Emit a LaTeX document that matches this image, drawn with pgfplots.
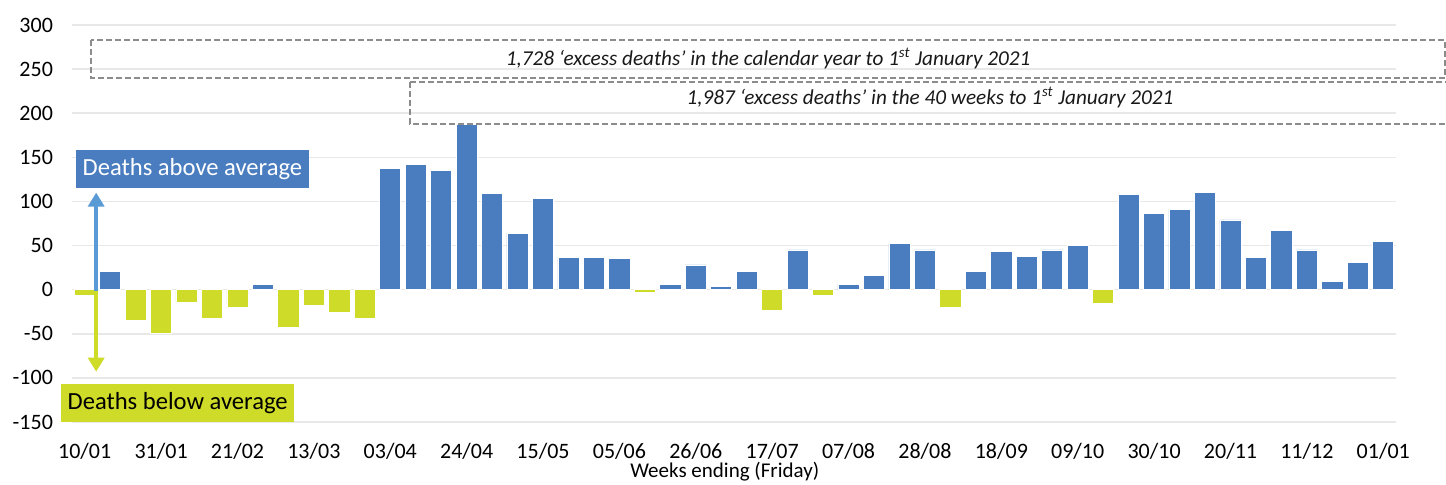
\documentclass[border=0pt]{standalone}
\usepackage{fontspec}
\setmainfont{Carlito}
\usepackage{pgfplots}
\pgfplotsset{compat=1.18}
\usetikzlibrary{arrows.meta}
\definecolor{barblue}{HTML}{4A7DBF}
\definecolor{bargreen}{HTML}{CEDB29}
\definecolor{arrblue}{HTML}{5B9BD5}
\definecolor{gridgray}{HTML}{E8E8E8}
\definecolor{boxgray}{HTML}{8C8C8C}
\begin{document}
\begin{tikzpicture}
\useasboundingbox (-36pt,-31pt) rectangle (687pt,211pt);
\begin{axis}[at={(0,0)}, anchor=south west, scale only axis,
  width=662pt, height=198.5pt,
  xmin=-0.5, xmax=51.5, ymin=-150, ymax=300,
  ytick={-150,-100,...,300},
  axis line style={draw=none}, major tick length=0pt,
  ymajorgrids, grid style={gridgray, line width=0.8pt},
  xtick={0,3,...,51},
  xticklabels={10/01,31/01,21/02,13/03,03/04,24/04,15/05,05/06,26/06,17/07,07/08,28/08,18/09,09/10,30/10,20/11,11/12,01/01},
  tick label style={font=\fontsize{11}{13}\selectfont},
  yticklabel style={anchor=east, xshift=-6pt},
  xticklabel style={anchor=north, yshift=-7pt},
  /pgf/number format/assume math mode=true,
  xlabel={Weeks ending (Friday)},
  xlabel style={font=\fontsize{10.5}{12}\selectfont, at={(axis description cs:0.493,0)}, anchor=north, yshift=-20pt, inner sep=0pt},
  ybar, bar width=10.6pt, bar shift=0pt,
  clip=false,
]
\addplot[fill=barblue, draw=white, line width=0.4pt] coordinates {
(1,21) (7,6) (12,137) (13,142) (14,135) (15,187) (16,109) (17,64) (18,103)
(19,37) (20,37) (21,35) (23,6) (24,28) (25,4) (26,21) (28,45) (30,6) (31,16)
(32,52) (33,45) (35,21) (36,43) (37,38) (38,45) (39,50) (41,108) (42,86)
(43,91) (44,110) (45,79) (46,37) (47,67) (48,45) (49,9) (50,31) (51,55)
};
\addplot[fill=bargreen, draw=white, line width=0.4pt] coordinates {
(0,-7) (2,-35) (3,-50) (4,-14) (5,-33) (6,-20) (8,-43) (9,-18) (10,-26)
(11,-32) (22,-3) (27,-24) (29,-6) (34,-20) (40,-15)
};
% annotation boxes
\draw[boxgray, line width=0.75pt, dash pattern=on 3pt off 1.5pt] (axis cs:0.246,283) rectangle (axis cs:53.43,240);
\node[font=\itshape\fontsize{10.6}{12}\selectfont, text=black!90] at (axis cs:26.84,262.3) {1,728 ‘excess deaths’ in the calendar year to 1\textsuperscript{st} January 2021};
\draw[boxgray, line width=0.75pt, dash pattern=on 3pt off 1.5pt] (axis cs:12.78,235.4) -- (axis cs:54.5,235.4)
  (axis cs:12.78,235.4) -- (axis cs:12.78,187.8) -- (axis cs:54.5,187.8);
\node[font=\itshape\fontsize{10.6}{12}\selectfont, text=black!90] at (axis cs:33.2,217.3) {1,987 ‘excess deaths’ in the 40 weeks to 1\textsuperscript{st} January 2021};
% labels
\node[fill=barblue, text=white, font=\fontsize{12.3}{14}\selectfont, minimum width=116.5pt, minimum height=19pt, inner sep=0pt] at (axis cs:4.23,136.8) {Deaths above average};
\node[fill=bargreen, text=black, font=\fontsize{12.3}{14}\selectfont, minimum width=116.5pt, minimum height=19pt, inner sep=0pt] at (axis cs:3.65,-128.5) {Deaths below average};
% arrows
\draw[arrblue, line width=2.2pt, -{Triangle[width=8pt,length=7pt]}] (axis cs:0.45,-2) -- (axis cs:0.45,110);
\draw[bargreen, line width=2.2pt, -{Triangle[width=8pt,length=7pt]}] (axis cs:0.45,-1) -- (axis cs:0.45,-93);
\end{axis}
\end{tikzpicture}
\end{document}
